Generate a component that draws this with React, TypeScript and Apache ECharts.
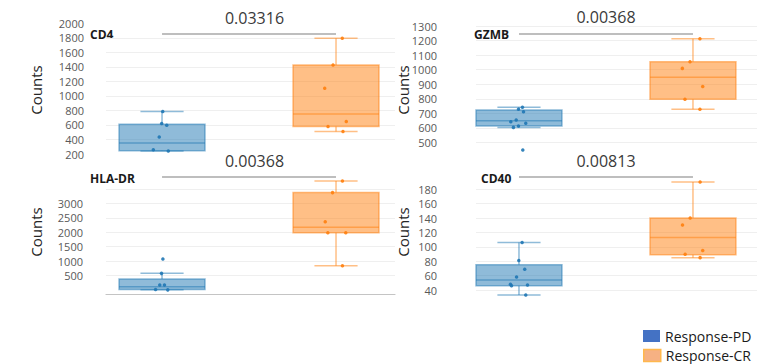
import React, { useEffect, useRef } from 'react';
import * as echarts from 'echarts';

const groupNames = ['Response-PD', 'Response-CR'];
const markerNames = ['CD4', 'GZMB', 'HLA-DR', 'CD40'];
const pValueLabels = ['0.03316', '0.00368', '0.00368', '0.00813'];

// box statistics: [min, Q1, median, Q3, max]
const cd4PDBox = [240, 245, 350, 610, 785];
const cd4CRBox = [509, 578, 752, 1427, 1793];
const gzmbPDBox = [604, 614, 650, 723, 742];
const gzmbCRBox = [728, 797, 948, 1055, 1213];
const hladrPDBox = [10, 20, 120, 385, 580];
const hladrCRBox = [846, 1986, 2171, 3369, 3772];
const cd40PDBox = [33, 46, 54, 75, 106];
const cd40CRBox = [85, 89, 113, 140, 190];

// sample points: [horizontal jitter, value]
const cd4PDPoints = [[0.004, 785], [-0.002, 620], [0.027, 595], [-0.016, 435], [-0.05, 260], [0.036, 240]];
const cd4CRPoints = [[0.036, 1793], [-0.017, 1427], [-0.065, 1106], [0.059, 647], [-0.046, 578], [0.04, 509]];
const gzmbPDPoints = [[0.02, 742], [-0.003, 728], [0.026, 712], [-0.016, 655], [-0.047, 643], [0.039, 632], [-0.003, 614], [-0.032, 604], [0.022, 449]];
const gzmbCRPoints = [[0.04, 1213], [-0.017, 1055], [-0.061, 1009], [0.056, 884], [-0.046, 797], [0.04, 728]];
const hladrPDPoints = [[0.005, 1076], [-0.003, 580], [-0.013, 180], [0.014, 180], [-0.037, 20], [0.033, 10]];
const hladrCRPoints = [[0.037, 3772], [-0.02, 3369], [-0.062, 2366], [-0.047, 1986], [0.056, 1986], [0.037, 846]];
const cd40PDPoints = [[0.018, 106], [-0.001, 81], [0.033, 69], [-0.014, 58], [-0.049, 48], [-0.043, 46], [0.049, 47], [0.039, 33]];
const cd40CRPoints = [[0.041, 190], [-0.016, 140], [-0.06, 130.5], [0.056, 94.8], [-0.045, 89.7], [0.041, 85]];

// y-axis tick labels
const cd4Ticks = [200, 400, 600, 800, 1000, 1200, 1400, 1600, 1800, 2000];
const gzmbTicks = [500, 600, 700, 800, 900, 1000, 1100, 1200, 1300];
const hladrTicks = [500, 1000, 1500, 2000, 2500, 3000];
const cd40Ticks = [40, 60, 80, 100, 120, 140, 160, 180];

// gridline values
const cd4GridLines = [400, 600, 800, 1000, 1200, 1400, 1600, 1800];
const gzmbGridLines = [500, 600, 700, 800, 900, 1000, 1100, 1200, 1300];
const hladrGridLines = [500, 1000, 1500, 2000, 2500, 3000, 3500];
const cd40GridLines = [40, 60, 80, 100, 120, 140, 160, 180];

// y-axis ranges [min, max, step]
const cd4Range = [200, 2000, 200];
const gzmbRange = [400, 1300, 100];
const hladrRange = [-150, 3950, 50];
const cd40Range = [20, 200, 20];

// bracket level (data units) for the p-value line
const bracketLevels = [1853, 1245, 3919, 197];

const FONT = '"Open Sans", sans-serif';
const BOX_HALF = 0.247;
const CAP_HALF = 0.124;
const PD_FILL = 'rgba(31,119,180,0.5)';
const PD_STROKE = 'rgba(31,119,180,0.5)';
const PD_POINT = '#1f77b4';
const CR_FILL = 'rgba(255,127,14,0.5)';
const CR_STROKE = 'rgba(255,127,14,0.5)';
const CR_POINT = '#ff7f0e';

const panels = [
  { box: [cd4PDBox, cd4CRBox], pts: [cd4PDPoints, cd4CRPoints], ticks: cd4Ticks, grid: cd4GridLines, range: cd4Range },
  { box: [gzmbPDBox, gzmbCRBox], pts: [gzmbPDPoints, gzmbCRPoints], ticks: gzmbTicks, grid: gzmbGridLines, range: gzmbRange },
  { box: [hladrPDBox, hladrCRBox], pts: [hladrPDPoints, hladrCRPoints], ticks: hladrTicks, grid: hladrGridLines, range: hladrRange },
  { box: [cd40PDBox, cd40CRBox], pts: [cd40PDPoints, cd40CRPoints], ticks: cd40Ticks, grid: cd40GridLines, range: cd40Range },
];

const layouts = [
  { left: 106, top: 23.3, width: 289, height: 130.7, xr: [-0.322, 1.339], margin: 22, titleX: 90, titleY: 34, pX: 254.5, pY: 17.5, cX: 36, cY: 90 },
  { left: 476, top: 26, width: 281, height: 131.1, xr: [-0.247, 1.368], margin: 39, titleX: 474, titleY: 34, pX: 606, pY: 17.3, cX: 403, cY: 90 },
  { left: 106, top: 175.8, width: 289, height: 118.7, xr: [-0.322, 1.339], margin: 23, titleX: 90, titleY: 178, pX: 254.5, pY: 160.7, cX: 36, cY: 232 },
  { left: 476, top: 174.9, width: 281, height: 129.5, xr: [-0.247, 1.368], margin: 39, titleX: 481, titleY: 178, pX: 606, pY: 161, cX: 403, cY: 232 },
];

function renderBox(fill: string, stroke: string) {
  return (params: any, api: any) => {
    const x = api.value(0);
    const mn = api.value(1), q1 = api.value(2), md = api.value(3), q3 = api.value(4), mx = api.value(5);
    const c = (xx: number, yy: number) => api.coord([xx, yy]);
    const line = (a: number[], b: number[]) => ({
      type: 'line',
      shape: { x1: a[0], y1: a[1], x2: b[0], y2: b[1] },
      style: { stroke, lineWidth: 1.5 },
    });
    const tl = c(x - BOX_HALF, q3);
    const br = c(x + BOX_HALF, q1);
    return {
      type: 'group',
      children: [
        line(c(x, q3), c(x, mx)),
        line(c(x, q1), c(x, mn)),
        line(c(x - CAP_HALF, mx), c(x + CAP_HALF, mx)),
        line(c(x - CAP_HALF, mn), c(x + CAP_HALF, mn)),
        {
          type: 'rect',
          shape: { x: tl[0], y: tl[1], width: br[0] - tl[0], height: br[1] - tl[1] },
          style: { fill, stroke, lineWidth: 1.5 },
        },
        line(c(x - BOX_HALF, md), c(x + BOX_HALF, md)),
      ],
    };
  };
}

export default function App() {
  const ref = useRef<HTMLDivElement>(null);
  useEffect(() => {
    if (!ref.current) return;
    const chart = echarts.init(ref.current, undefined, { renderer: 'svg' });

    const grids: any[] = [];
    const xAxes: any[] = [];
    const yAxes: any[] = [];
    const series: any[] = [];
    const graphics: any[] = [];

    panels.forEach((p, i) => {
      const L = layouts[i];
      grids.push({ left: L.left, top: L.top, width: L.width, height: L.height, outerBoundsMode: 'none', containLabel: false });
      xAxes.push({
        type: 'value', gridIndex: i, min: L.xr[0], max: L.xr[1],
        show: i === 2,
        axisLine: { show: true, onZero: false, lineStyle: { color: '#c4c4c4', width: 1.2 } },
        axisTick: { show: false }, axisLabel: { show: false }, splitLine: { show: false },
      });
      const ticks = p.ticks;
      yAxes.push({
        type: 'value', gridIndex: i, min: p.range[0], max: p.range[1], interval: p.range[2],
        axisLine: { show: false }, axisTick: { show: false }, splitLine: { show: false },
        axisLabel: {
          margin: L.margin, color: '#595959', fontSize: 11, fontFamily: FONT,
          formatter: (v: number) => (ticks.indexOf(Math.round(v)) >= 0 ? String(Math.round(v)) : ''),
        },
      });
      // gridlines
      series.push({
        type: 'line', xAxisIndex: i, yAxisIndex: i, data: [], z: 0, silent: true,
        markLine: {
          silent: true, symbol: 'none', label: { show: false }, z: 0,
          lineStyle: { color: '#efefef', width: 1, type: 'solid' },
          data: p.grid.map((v) => ({ yAxis: v })),
        },
      });
      const fills = [PD_FILL, CR_FILL];
      const strokes = [PD_STROKE, CR_STROKE];
      const pointColors = [PD_POINT, CR_POINT];
      [0, 1].forEach((g) => {
        series.push({
          type: 'custom', name: groupNames[g], xAxisIndex: i, yAxisIndex: i,
          data: [[g, ...p.box[g]]],
          encode: { x: 0, y: [1, 2, 3, 4, 5] },
          renderItem: renderBox(fills[g], strokes[g]),
          z: 2,
        });
        const sc: any = {
          type: 'scatter', xAxisIndex: i, yAxisIndex: i,
          data: p.pts[g].map(([j, v]) => [g + j, v]),
          symbolSize: 3.5, itemStyle: { color: pointColors[g], opacity: 0.9 }, z: 3,
        };
        if (g === 1) {
          sc.markLine = {
            silent: true, symbol: 'none', label: { show: false },
            lineStyle: { color: '#a9a9a9', width: 1.5, type: 'solid' },
            data: [[{ coord: [0, bracketLevels[i]] }, { coord: [1, bracketLevels[i]] }]],
          };
        }
        series.push(sc);
      });

      graphics.push({
        type: 'text', x: L.titleX, y: L.titleY,
        style: { text: markerNames[i], font: `bold 12px ${FONT}`, fill: '#1a1a1a', align: 'left', verticalAlign: 'middle' },
      });
      graphics.push({
        type: 'text', x: L.pX, y: L.pY,
        style: { text: pValueLabels[i], font: `16px ${FONT}`, fill: '#3a3a3a', align: 'center', verticalAlign: 'middle' },
      });
      graphics.push({
        type: 'text', x: L.cX, y: L.cY, rotation: Math.PI / 2,
        style: { text: 'Counts', font: `15px ${FONT}`, fill: '#262626', align: 'center', verticalAlign: 'middle' },
      });
    });

    const legendBase = {
      orient: 'vertical', left: 643, itemWidth: 17, itemHeight: 12, padding: 0,
      selectedMode: false,
      textStyle: { fontSize: 14, color: '#1a1a1a', fontFamily: FONT, lineHeight: 16 },
    };

    chart.setOption({
      animation: false,
      backgroundColor: '#ffffff',
      grid: grids,
      xAxis: xAxes,
      yAxis: yAxes,
      series,
      graphic: graphics,
      legend: [
        {
          ...legendBase, top: 328,
          data: [{ name: groupNames[0], icon: 'rect', itemStyle: { color: '#4472c4', borderWidth: 0 } }],
        },
        {
          ...legendBase, top: 347.5,
          data: [{ name: groupNames[1], icon: 'rect', itemStyle: { color: '#f6b183', borderColor: '#ffb84d', borderWidth: 1.5 } }],
        },
      ],
    });
    return () => chart.dispose();
  }, []);
  return <div ref={ref} style={{ position: 'fixed', left: 0, top: 0, width: 781, height: 364 }} />;
}
